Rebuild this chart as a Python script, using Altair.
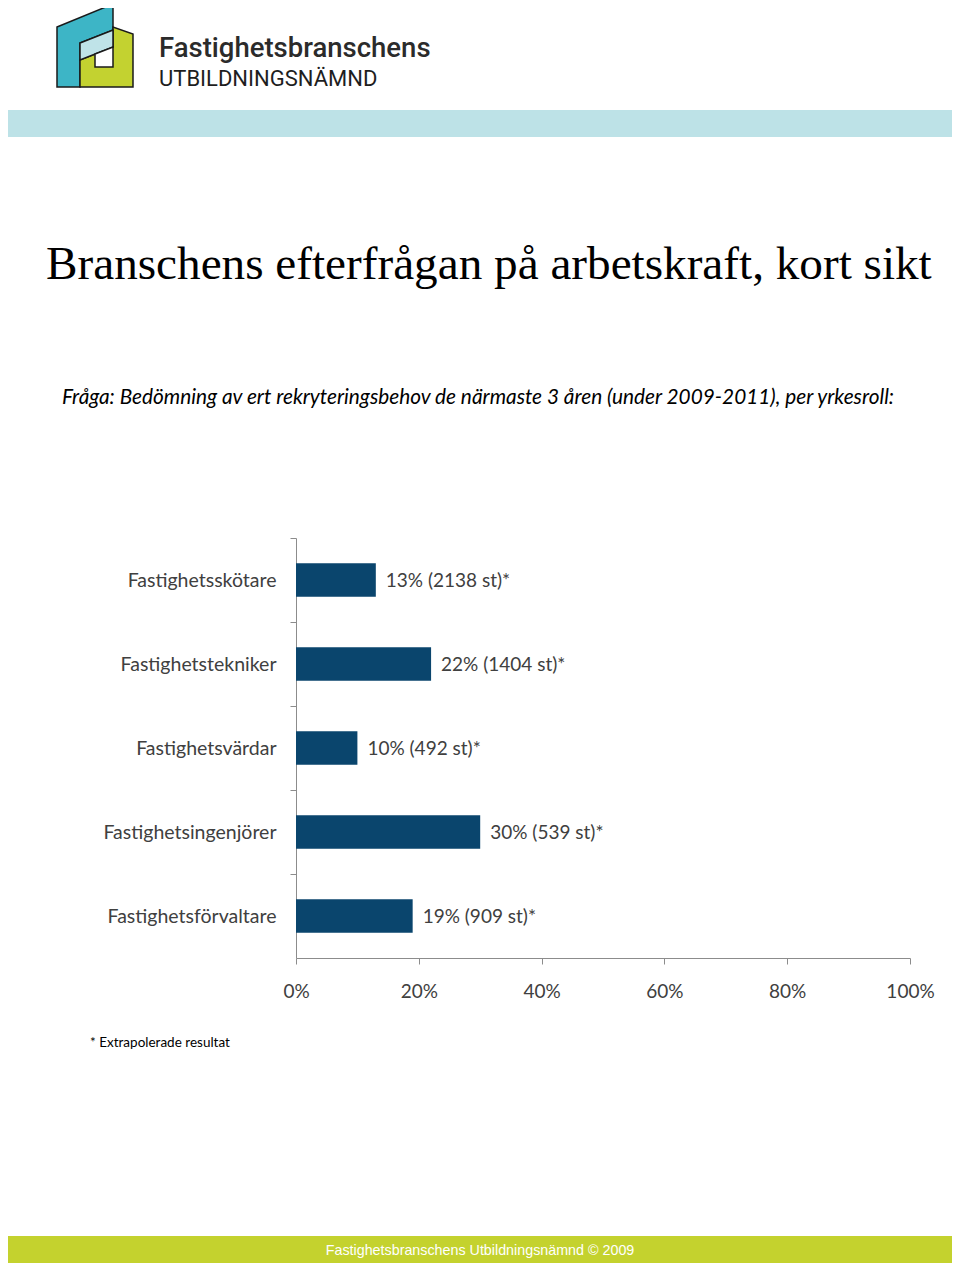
import altair as alt
import pandas as pd

# ---- data ----
roles = ["Fastighetsskötare", "Fastighetstekniker", "Fastighetsvärdar",
         "Fastighetsingenjörer", "Fastighetsförvaltare"]
pcts = [13, 22, 10, 30, 19]
counts = [2138, 1404, 492, 539, 909]
x_ticks = [0, 20, 40, 60, 80, 100]

title_text = "Branschens efterfrågan på arbetskraft, kort sikt"
subtitle_text = "Fråga: Bedömning av ert rekryteringsbehov de närmaste 3 åren (under 2009-2011), per yrkesroll:"
footnote_text = "* Extrapolerade resultat"
footer_text = "Fastighetsbranschens Utbildningsnämnd © 2009"
logo_line1 = "Fastighetsbranschens"
logo_line2 = "UTBILDNINGSNÄMND"

df = pd.DataFrame({"role": roles, "pct": pcts, "count": counts})
df["label"] = [f"{p}% ({c} st)*" for p, c in zip(pcts, counts)]

# plot-area origin on the page
OX, OY = 296, 538
W, H = 614, 420
one = alt.Data(values=[{}])


def px(x):
    return x - OX


def py(y):
    return y - OY


# ---- logo shapes as custom symbol paths ----
LCX, LCY, LS = 95, 45, 45


def poly_path(pts):
    parts = []
    for i, (x, y) in enumerate(pts):
        parts.append(("M" if i == 0 else "L") + f"{(x - LCX) / LS:.4f},{(y - LCY) / LS:.4f}")
    return " ".join(parts) + " Z"


logo_polys = [
    ([(57, 27), (113, 4), (113, 30), (80, 43), (80, 87), (57, 87)], "#3DB5C6"),
    ([(80, 60), (113, 47), (113, 27), (133, 34), (133, 87), (80, 87)], "#C3D230"),
    ([(80, 43), (113, 30), (113, 47), (80, 60)], "#BFE3E8"),
    ([(95, 54), (113, 47), (113, 67), (95, 67)], "#FFFFFF"),
]

layers = []

# header / footer bands
layers.append(alt.Chart(one).mark_rect(color="#BDE2E7").encode(
    x=alt.value(px(2)), x2=alt.value(px(958)), y=alt.value(py(110)), y2=alt.value(py(137))))
layers.append(alt.Chart(one).mark_rect(color="#C4D22E").encode(
    x=alt.value(px(2)), x2=alt.value(px(958)), y=alt.value(py(1236)), y2=alt.value(py(1265))))

for pts, col in logo_polys:
    layers.append(alt.Chart(one).mark_point(
        shape=poly_path(pts), size=(2 * LS) ** 2, filled=True, fill=col,
        stroke="#1a1a1a", strokeWidth=1.5, opacity=1).encode(
        x=alt.value(px(LCX)), y=alt.value(py(LCY))))

layers.append(alt.Chart(one).mark_text(
    text=logo_line1, font="Roboto", fontSize=27.5, fontWeight=500, color="#2b2b2b",
    align="left", baseline="alphabetic").encode(x=alt.value(px(159)), y=alt.value(py(57))))
layers.append(alt.Chart(one).mark_text(
    text=logo_line2, font="Roboto", fontSize=22, fontWeight=400, color="#1e1e1e",
    align="left", baseline="alphabetic").encode(x=alt.value(px(159)), y=alt.value(py(86))))

# title / subtitle
layers.append(alt.Chart(one).mark_text(
    text=title_text, font="Liberation Serif", fontSize=47.2, color="#000000",
    align="left", baseline="alphabetic").encode(x=alt.value(px(46)), y=alt.value(py(279))))
layers.append(alt.Chart(one).mark_text(
    text=subtitle_text, font="Lato", fontSize=20.8, fontStyle="italic", color="#000000",
    align="left", baseline="alphabetic").encode(x=alt.value(px(62)), y=alt.value(py(404))))

# footnote / footer text
layers.append(alt.Chart(one).mark_text(
    text=footnote_text, font="Lato", fontSize=13.5, color="#000000",
    align="left", baseline="middle").encode(x=alt.value(px(90)), y=alt.value(py(1043))))
layers.append(alt.Chart(one).mark_text(
    text=footer_text, font="Liberation Sans", fontSize=14.3, color="#FFFFFF",
    align="center", baseline="middle").encode(x=alt.value(px(480)), y=alt.value(py(1251))))

# ---- the bar chart ----
step = H / len(roles)
xenc = alt.X("pct:Q", scale=alt.Scale(domain=[0, 100], nice=False),
             axis=alt.Axis(values=x_ticks, labelExpr="datum.value + '%'", title=None,
                           grid=False, domainColor="#8c8c8c", tickColor="#8c8c8c",
                           tickSize=6, labelPadding=18, labelFlush=False,
                           labelFont="Lato", labelFontSize=19, labelColor="#404040"))
yenc = alt.Y("role:N", sort=roles,
             scale=alt.Scale(paddingInner=0.6, paddingOuter=0.3),
             axis=alt.Axis(title=None, domainColor="#8c8c8c", tickColor="#8c8c8c",
                           tickSize=6, tickOffset=-step / 2, labelOffset=step / 2,
                           labelPadding=14, labelFont="Lato", labelFontSize=19.5,
                           labelColor="#404040"))

bars = alt.Chart(df).mark_bar(color="#0A456D").encode(x=xenc, y=yenc)
labels = alt.Chart(df).mark_text(align="left", baseline="middle", dx=10, dy=1,
                                 font="Lato", fontSize=19, color="#404040").encode(
    x="pct:Q", y=alt.Y("role:N", sort=roles), text="label:N")

TOTAL_W, TOTAL_H = 944, 1255
chart = alt.layer(*layers, bars, labels).properties(
    width=W, height=H,
    padding={"left": OX - 8, "top": OY - 8, "right": TOTAL_W - (OX - 8) - W,
             "bottom": TOTAL_H - (OY - 8) - H},
    autosize=alt.AutoSizeParams(type="none"),
    background="#FFFFFF",
).configure_view(stroke=None)

chart.save("out.html", embed_options={"renderer": "svg", "actions": False})
